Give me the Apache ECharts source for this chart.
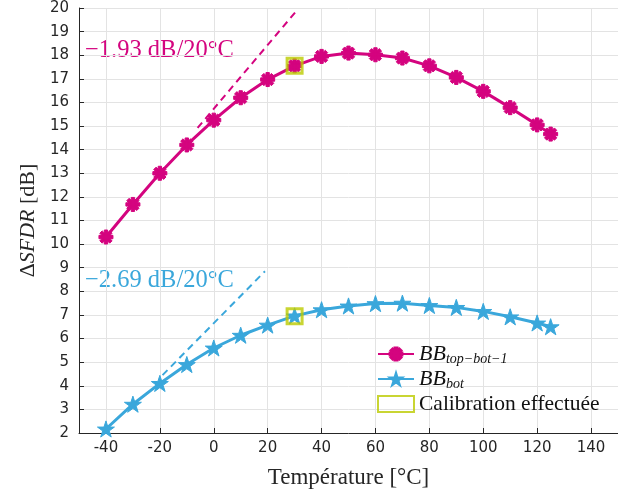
<!DOCTYPE html>
<html>
<head>
<meta charset="utf-8">
<script src="https://cdn.jsdelivr.net/npm/echarts@6/dist/echarts.min.js"></script>
<style>html,body{margin:0;padding:0;background:#fff}#c{width:618px;height:497px}</style>
</head>
<body>
<div id="c"></div>
<script>
const temps = [-40,-30,-20,-10,0,10,20,30,40,50,60,70,80,90,100,110,120,125];
const bbTopBot = [10.3,11.68,13.0,14.2,15.25,16.2,16.97,17.55,17.95,18.09,18.02,17.88,17.55,17.06,16.47,15.78,15.05,14.66];
const bbBot = [2.17,3.22,4.1,4.9,5.6,6.14,6.57,6.96,7.22,7.38,7.48,7.5,7.4,7.32,7.15,6.92,6.66,6.5];
const calibTemps = [30,30];
const calibValues = [17.55,6.95];
const slopeTopX = [-6,31];
const slopeTopY = [14.92,19.92];
const slopeBotX = [-19,19];
const slopeBotY = [4.45,8.85];
const xTicks = [-40,-20,0,20,40,60,80,100,120,140];
const annotTop = '\u22121.93 dB/20\u00B0C';
const annotBot = '\u22122.69 dB/20\u00B0C';

const MAG = '#d4047f';
const BLU = '#3aa7db';
const CAL = '#bccb00';
const ast = 'path://M-1.2,-5 L1.2,-5 L1.2,5 L-1.2,5 Z M-5,-1.2 L5,-1.2 L5,1.2 L-5,1.2 Z M-2.69,-4.39 L4.39,2.69 L2.69,4.39 L-4.39,-2.69 Z M2.69,-4.39 L4.39,-2.69 L-2.69,4.39 L-4.39,2.69 Z';
const star = 'path://M0,-10 L2.245,-3.09 L9.51,-3.09 L3.633,1.18 L5.878,8.09 L0,3.82 L-5.878,8.09 L-3.633,1.18 L-9.51,-3.09 L-2.245,-3.09 Z';

const zip = (a,b) => a.map((v,i)=>[v,b[i]]);
const serif = 'Liberation Serif';
const chart = echarts.init(document.getElementById('c'), null, {renderer:'canvas'});
chart.setOption({
  animation:false,
  grid:{left:79, top:8, width:542, height:425, containLabel:false},
  xAxis:{
    type:'value', min:-50, max:150,
    name:'Température [°C]', nameLocation:'middle', nameGap:33,
    nameTextStyle:{fontFamily:serif, fontSize:23, color:'#262626'},
    axisLine:{show:true, onZero:false, lineStyle:{color:'#262626', width:1}},
    axisTick:{show:true, inside:true, length:5, customValues:xTicks, lineStyle:{color:'#262626'}},
    axisLabel:{customValues:xTicks, fontFamily:'DejaVu Sans', fontSize:15, color:'#262626', margin:8},
    splitLine:{show:true, lineStyle:{color:'#e3e3e3', width:1}}
  },
  yAxis:{
    type:'value', min:2, max:20, interval:1,
    name:'{n|Δ}{i|SFDR}{n| [dB]}', nameLocation:'middle', nameGap:40, nameRotate:90,
    nameTextStyle:{fontFamily:serif, fontSize:22, color:'#262626',
      rich:{n:{fontFamily:serif,fontSize:22,color:'#262626'}, i:{fontFamily:serif,fontSize:22,fontStyle:'italic',color:'#262626'}}},
    axisLine:{show:true, onZero:false, lineStyle:{color:'#262626', width:1}},
    axisTick:{show:true, inside:true, length:5, lineStyle:{color:'#262626'}},
    axisLabel:{fontFamily:'DejaVu Sans', fontSize:15, color:'#262626', margin:10},
    splitLine:{show:true, lineStyle:{color:'#e3e3e3', width:1}}
  },
  legend:{
    left:372, top:338, orient:'vertical', itemWidth:36, itemHeight:16, itemGap:2,
    data:['top','bot','calib'],
    formatter:function(n){
      if(n==='top') return '{i|BB}{s|top\u2212bot\u22121}';
      if(n==='bot') return '{i|BB}{s|bot}';
      return '{t|Calibration effectuée}';
    },
    textStyle:{fontFamily:serif, fontSize:21, color:'#111',
      rich:{
        i:{fontFamily:serif,fontSize:22,fontStyle:'italic',color:'#111'},
        s:{fontFamily:serif,fontSize:14,fontStyle:'italic',color:'#111',padding:[10,0,0,0]},
        t:{fontFamily:serif,fontSize:21.5,color:'#111'}
      }}
  },
  graphic:[
    {type:'text', left:85, top:38, style:{text:annotTop, fill:MAG, font:'24.5px "Liberation Serif"'}},
    {type:'text', left:85, top:268, style:{text:annotBot, fill:BLU, font:'24.5px "Liberation Serif"'}}
  ],
  series:[
    {type:'line', name:'slopeTop', data:zip(slopeTopX,slopeTopY), showSymbol:false, symbol:'none',
     lineStyle:{color:MAG, width:2, type:[7,5]}, silent:true, z:1},
    {type:'line', name:'slopeBot', data:zip(slopeBotX,slopeBotY), showSymbol:false, symbol:'none',
     lineStyle:{color:BLU, width:2, type:[7,5]}, silent:true, z:1},
    {type:'line', name:'top', data:zip(temps,bbTopBot), symbol:ast, symbolSize:14, symbolKeepAspect:true,
     lineStyle:{color:MAG, width:3}, itemStyle:{color:MAG, borderColor:MAG, borderWidth:1}, z:3},
    {type:'line', name:'bot', data:zip(temps,bbBot), symbol:star, symbolSize:17, symbolKeepAspect:true,
     lineStyle:{color:BLU, width:3}, itemStyle:{color:BLU, borderColor:BLU, borderWidth:1}, z:3},
    {type:'scatter', name:'calib', data:zip(calibTemps,calibValues), symbol:'rect', symbolSize:15,
     itemStyle:{color:'rgba(0,0,0,0)', borderColor:CAL, borderWidth:3}, z:5}
  ]
});
</script>
</body>
</html>
